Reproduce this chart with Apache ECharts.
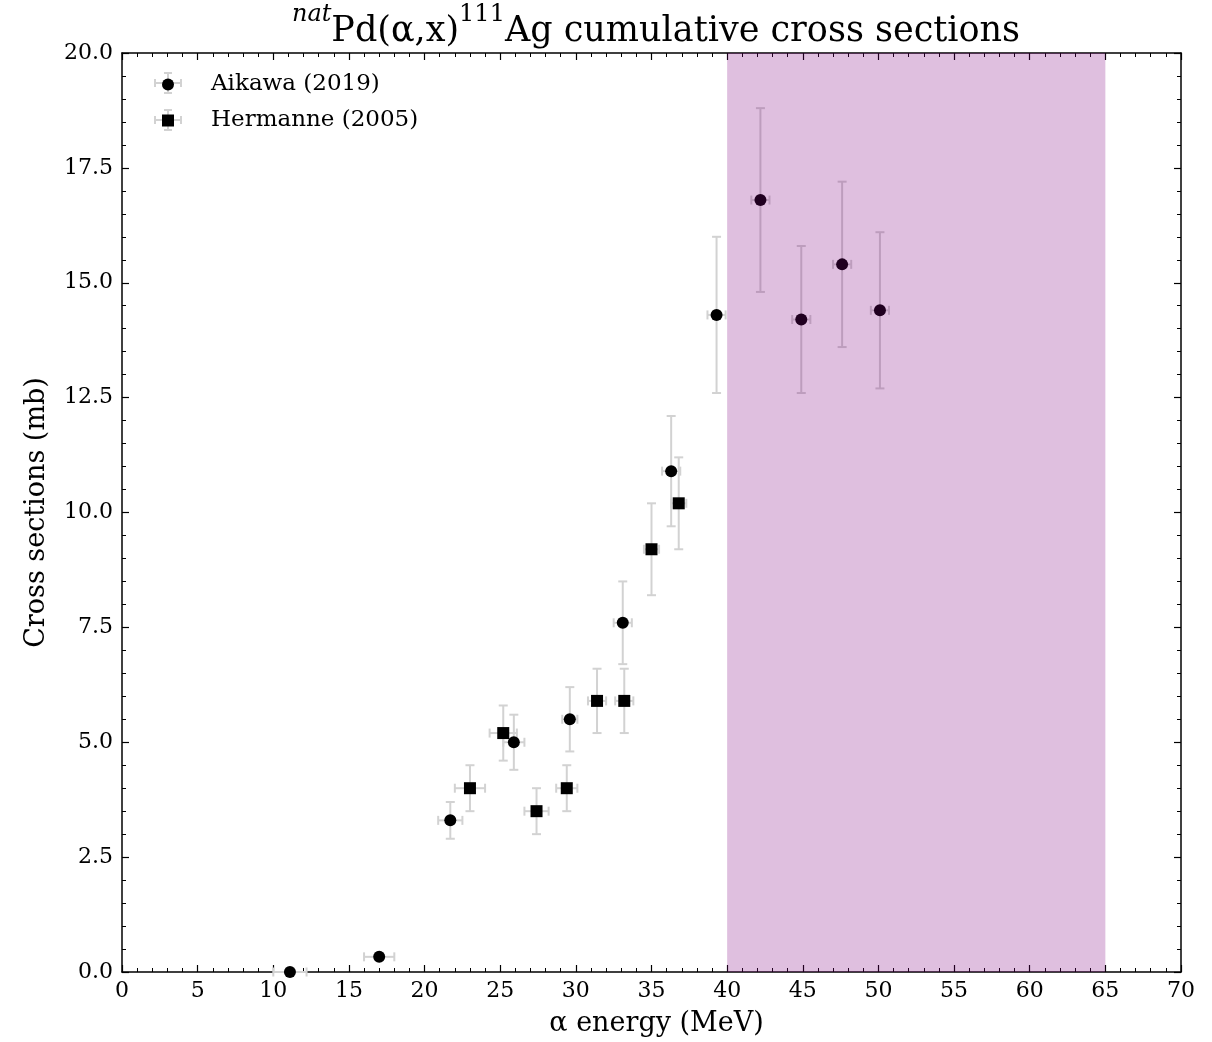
<!DOCTYPE html>
<html>
<head>
<meta charset="utf-8">
<script src="https://cdn.jsdelivr.net/npm/echarts@6/dist/echarts.min.js"></script>
<style>
  html, body { margin: 0; padding: 0; background: #fff; }
  #chart { width: 1212px; height: 1042px; }
</style>
</head>
<body>
<div id="chart"></div>
<script>
// Aikawa (2019): energy, energy err, cross section, cross section err
const aikawaE = [11.1, 17.0, 21.7, 25.9, 29.6, 33.1, 36.3, 39.3, 42.2, 44.9, 47.6, 50.1];
const aikawaDE = [1.1, 1.0, 0.8, 0.7, 0.5, 0.6, 0.6, 0.6, 0.6, 0.6, 0.6, 0.6];
const aikawaXS = [0.0, 0.33, 3.3, 5.0, 5.5, 7.6, 10.9, 14.3, 16.8, 14.2, 15.4, 14.4];
const aikawaDXS = [0.0, 0.05, 0.4, 0.6, 0.7, 0.9, 1.2, 1.7, 2.0, 1.6, 1.8, 1.7];

// Hermanne (2005)
const hermE = [23.0, 25.2, 27.4, 29.4, 31.4, 33.2, 35.0, 36.8];
const hermDE = [1.0, 0.9, 0.8, 0.7, 0.6, 0.6, 0.5, 0.5];
const hermXS = [4.0, 5.2, 3.5, 4.0, 5.9, 5.9, 9.2, 10.2];
const hermDXS = [0.5, 0.6, 0.5, 0.5, 0.7, 0.7, 1.0, 1.0];

// shaded energy range
const bandE = [40, 65];

const xTicks = { min: 0, max: 70, interval: 5 };
const yTicks = { min: 0, max: 20, interval: 2.5 };

const FONT = 'DejaVu Serif';
const errColor = '#d2d2d2';

function pts(e, de, xs, dxs) {
  return e.map((v, i) => [v, xs[i], de[i], dxs[i]]);
}

function errBars(params, api) {
  const x = api.value(0), y = api.value(1), dx = api.value(2), dy = api.value(3);
  const c = api.coord([x, y]);
  const l = api.coord([x - dx, y]), r = api.coord([x + dx, y]);
  const t = api.coord([x, y + dy]), b = api.coord([x, y - dy]);
  const cap = 4.5;
  const st = { stroke: errColor, lineWidth: 2 };
  const kids = [
    { type: 'line', shape: { x1: l[0], y1: c[1], x2: r[0], y2: c[1] }, style: st },
    { type: 'line', shape: { x1: l[0], y1: c[1] - cap, x2: l[0], y2: c[1] + cap }, style: st },
    { type: 'line', shape: { x1: r[0], y1: c[1] - cap, x2: r[0], y2: c[1] + cap }, style: st }
  ];
  if (dy > 0) {
    kids.push(
      { type: 'line', shape: { x1: c[0], y1: t[1], x2: c[0], y2: b[1] }, style: st },
      { type: 'line', shape: { x1: c[0] - cap, y1: t[1], x2: c[0] + cap, y2: t[1] }, style: st },
      { type: 'line', shape: { x1: c[0] - cap, y1: b[1], x2: c[0] + cap, y2: b[1] }, style: st }
    );
  }
  return { type: 'group', children: kids };
}

// translucent purple band over the plot, drawn on top of the points
function band(params, api) {
  const p0 = api.coord([api.value(0), yTicks.max]);
  const p1 = api.coord([api.value(1), yTicks.min]);
  return {
    type: 'rect',
    shape: { x: p0[0], y: p0[1], width: p1[0] - p0[0], height: p1[1] - p0[1] },
    style: { fill: 'rgba(128,0,128,0.25)' }
  };
}

const aData = pts(aikawaE, aikawaDE, aikawaXS, aikawaDXS);
const hData = pts(hermE, hermDE, hermXS, hermDXS);

const tickCommon = {
  axisLine: { show: true, onZero: false, lineStyle: { color: '#000', width: 1.5 } },
  axisTick: { show: true, inside: true, length: 7, lineStyle: { color: '#000', width: 1.2 } },
  minorTick: { show: true, splitNumber: 5, length: 4, lineStyle: { color: '#000', width: 1 } },
  splitLine: { show: false }
};

function legendErr(cx, cy) {
  const st = { stroke: errColor, lineWidth: 2 };
  return { type: 'group', z: 0, children: [
    { type: 'line', shape: { x1: cx - 13, y1: cy, x2: cx + 13, y2: cy }, style: st },
    { type: 'line', shape: { x1: cx - 13, y1: cy - 4, x2: cx - 13, y2: cy + 4 }, style: st },
    { type: 'line', shape: { x1: cx + 13, y1: cy - 4, x2: cx + 13, y2: cy + 4 }, style: st },
    { type: 'line', shape: { x1: cx, y1: cy - 10, x2: cx, y2: cy + 10 }, style: st },
    { type: 'line', shape: { x1: cx - 4, y1: cy - 10, x2: cx + 4, y2: cy - 10 }, style: st },
    { type: 'line', shape: { x1: cx - 4, y1: cy + 10, x2: cx + 4, y2: cy + 10 }, style: st }
  ]};
}

const chart = echarts.init(document.getElementById('chart'));
chart.setOption({
  backgroundColor: '#fff',
  animation: false,
  title: {
    text: '{it|nat}{n|Pd(α,x)}{sup|111}{n|Ag cumulative cross sections}',
    left: 651, top: -2, textAlign: 'center',
    textStyle: {
      fontWeight: 'normal',
      rich: {
        n: { fontFamily: FONT, fontSize: 35, fontWeight: 'normal', color: '#000', lineHeight: 46, verticalAlign: 'bottom' },
        it: { fontFamily: FONT, fontSize: 24, fontStyle: 'italic', fontWeight: 'normal', color: '#000', verticalAlign: 'top', lineHeight: 46, padding: [0, 0, 14, 0] },
        sup: { fontFamily: FONT, fontSize: 24, fontWeight: 'normal', color: '#000', verticalAlign: 'top', lineHeight: 46, padding: [0, 0, 14, 0] }
      }
    }
  },
  legend: {
    orient: 'vertical', left: 162, top: 73, itemGap: 13, padding: 0,
    itemWidth: 12, itemHeight: 12,
    textStyle: { fontFamily: FONT, fontSize: 23, color: '#000', padding: [0, 0, 0, 32] },
    data: [
      { name: 'Aikawa (2019)', icon: 'circle', itemStyle: { opacity: 1 } },
      { name: 'Hermanne (2005)', icon: 'rect', itemStyle: { opacity: 1 } }
    ]
  },
  graphic: [legendErr(168, 83), legendErr(168, 120)],
  grid: { left: 122, right: 31, top: 53, bottom: 70, containLabel: false },
  xAxis: [
    Object.assign({
      type: 'value', position: 'bottom', min: xTicks.min, max: xTicks.max, interval: xTicks.interval,
      name: 'α energy (MeV)', nameLocation: 'middle', nameGap: 38,
      nameTextStyle: { fontFamily: FONT, fontSize: 27, color: '#000', padding: [0, 0, 0, 10] },
      axisLabel: { fontFamily: FONT, fontSize: 22, color: '#000', margin: 8 }
    }, tickCommon),
    Object.assign({
      type: 'value', position: 'top', min: xTicks.min, max: xTicks.max, interval: xTicks.interval,
      axisLabel: { show: false }
    }, tickCommon)
  ],
  yAxis: [
    Object.assign({
      type: 'value', position: 'left', min: yTicks.min, max: yTicks.max, interval: yTicks.interval,
      name: 'Cross sections (mb)', nameLocation: 'middle', nameGap: 72, nameRotate: 90,
      nameTextStyle: { fontFamily: FONT, fontSize: 27, color: '#000' },
      axisLabel: { fontFamily: FONT, fontSize: 22, color: '#000', margin: 9, formatter: v => v.toFixed(1) }
    }, tickCommon),
    Object.assign({
      type: 'value', position: 'right', min: yTicks.min, max: yTicks.max, interval: yTicks.interval,
      axisLabel: { show: false }
    }, tickCommon)
  ],
  series: [
    { type: 'custom', name: 'errA', renderItem: errBars, data: aData, z: 1, silent: true, clip: false, encode: { x: 0, y: 1 } },
    { type: 'custom', name: 'errH', renderItem: errBars, data: hData, z: 1, silent: true, clip: false, encode: { x: 0, y: 1 } },
    { type: 'scatter', name: 'Aikawa (2019)', data: aData, symbol: 'circle', symbolSize: 12,
      itemStyle: { color: '#000', opacity: 1 }, z: 3, clip: false, encode: { x: 0, y: 1 } },
    { type: 'scatter', name: 'Hermanne (2005)', data: hData, symbol: 'rect', symbolSize: 12,
      itemStyle: { color: '#000', opacity: 1 }, z: 3, clip: false, encode: { x: 0, y: 1 } },
    { type: 'custom', name: 'band', renderItem: band, data: [bandE], z: 10, silent: true,
      encode: { x: [0, 1] } }
  ]
});
</script>
</body>
</html>
